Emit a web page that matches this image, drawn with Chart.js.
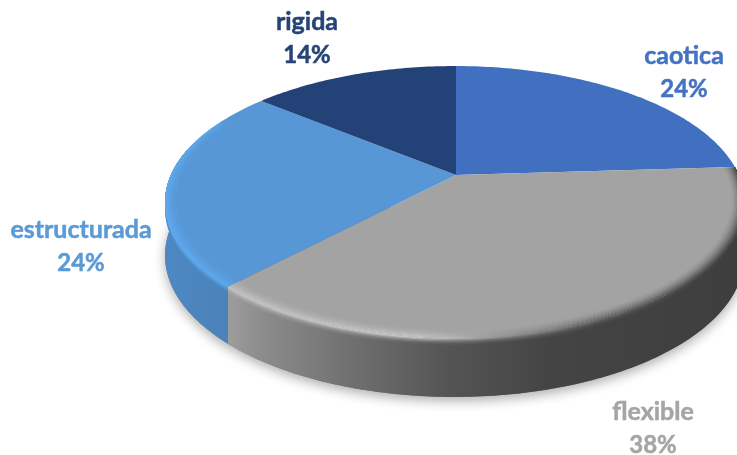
<!DOCTYPE html>
<html>
<head>
<meta charset="utf-8">
<style>
  html, body { margin: 0; padding: 0; background: #fff; }
  canvas { display: block; }
</style>
<script src="https://cdn.jsdelivr.net/npm/chart.js@4"></script>
</head>
<body>
<canvas id="myChart" width="737" height="455"></canvas>
<script>
  const categories = ["caotica", "flexible", "estructurada", "rigida"];
  const shares = [24, 38, 24, 14];
  const colors = ["#4170c0", "#a3a3a3", "#5797d6", "#234278"];
  const labelColors = ["#4472c4", "#a5a5a5", "#5b9bd5", "#264478"];
  const labelPos = [[684, 56], [653, 412], [81, 230], [307, 22]];

  // perspective of the disc: apex, scale and tilt
  const view = { x: 456, y: 175, a: 284, b: 130.6, p: 0.1985, q: 0.004 };

  // wall and rim shading, [x, [r,g,b]]
  const wallStops = [
    [[232, [66, 118, 170]], [300, [80, 140, 200]]],
    [[232, [155, 155, 155]], [262, [140, 140, 140]], [350, [112, 112, 112]], [450, [84, 84, 84]], [550, [68, 68, 68]], [737, [62, 62, 62]]],
    [[165, [78, 136, 194]], [232, [74, 130, 186]]],
    [[0, [35, 66, 120]], [737, [35, 66, 120]]]
  ];
  const rimStops = [
    [[232, [80, 140, 200]], [737, [40, 70, 130]]],
    [[232, [196, 196, 196]], [420, [200, 200, 200]], [500, [150, 150, 150]], [600, [95, 95, 95]], [737, [62, 62, 62]]],
    [[165, [96, 170, 240]], [232, [92, 168, 238]]],
    [[0, [35, 66, 120]], [737, [35, 66, 120]]]
  ];

  function project(angle, r) {
    const u = r * Math.cos(angle), v = r * Math.sin(angle);
    const w = 1 - view.p * v + view.q * u;
    return [view.x + view.a * u / w, view.y + view.b * v / w];
  }
  function depth(angle) {
    return 52 + 7 * Math.sin(angle);
  }
  function rimPath(ctx, a0, a1, fn) {
    const n = Math.max(2, Math.ceil(Math.abs(a1 - a0) * 60));
    for (let i = 0; i <= n; i++) {
      const a = a0 + (a1 - a0) * i / n;
      const pt = fn(a);
      ctx.lineTo(pt[0], pt[1]);
    }
  }
  function band(ctx, a0, a1, fnA, fnB, fill) {
    ctx.beginPath();
    rimPath(ctx, a0, a1, fnA);
    rimPath(ctx, a1, a0, fnB);
    ctx.closePath();
    ctx.fillStyle = fill;
    ctx.fill();
  }
  function mix(c1, c2, t) {
    return c1.map((c, i) => Math.round(c + (c2[i] - c) * t));
  }
  function hexRgb(h) {
    return [1, 3, 5].map(i => parseInt(h.substr(i, 2), 16));
  }
  function colorAt(stops, x) {
    if (x <= stops[0][0]) return stops[0][1];
    for (let i = 1; i < stops.length; i++) {
      if (x <= stops[i][0]) {
        return mix(stops[i - 1][1], stops[i][1], (x - stops[i - 1][0]) / (stops[i][0] - stops[i - 1][0]));
      }
    }
    return stops[stops.length - 1][1];
  }
  function hGrad(ctx, stopsA, stopsB, t) {
    // blend stopsA towards stopsB, both sampled on the stop list of B
    const x0 = stopsB[0][0], x1 = stopsB[stopsB.length - 1][0];
    const g = ctx.createLinearGradient(x0, 0, x1, 0);
    stopsB.forEach(s => {
      const base = Array.isArray(stopsA[0]) ? colorAt(stopsA, s[0]) : stopsA;
      const c = mix(base, s[1], t);
      g.addColorStop((s[0] - x0) / (x1 - x0), "rgb(" + c.join(",") + ")");
    });
    return g;
  }

  const disc3d = {
    id: 'disc3d',
    beforeDatasetsDraw(chart) {
      const ctx = chart.ctx;
      const arcs = chart.getDatasetMeta(0).data;
      const low = a => { const p = project(a, 1); return [p[0], p[1] + depth(a)]; };
      const top = a => project(a, 1);

      // soft shadow under the pie
      ctx.save();
      ctx.shadowColor = "rgba(0,0,0,0.32)";
      ctx.shadowBlur = 12;
      ctx.shadowOffsetY = 4;
      ctx.fillStyle = "#777";
      ctx.beginPath();
      rimPath(ctx, -0.06, Math.PI + 0.2, low);
      ctx.closePath();
      ctx.fill();
      ctx.restore();

      // side wall
      arcs.forEach((arc, i) => {
        const a0 = Math.max(arc.startAngle, -0.06);
        const a1 = Math.min(arc.endAngle, Math.PI + 0.2);
        if (a1 <= a0) return;
        band(ctx, a0, a1, top, low, hGrad(ctx, wallStops[i], wallStops[i], 0));
        // the rim highlight runs a little over the wall
        const n = 6;
        for (let k = n; k > 0; k--) {
          const d = 7 * k / n;
          const lowK = a => { const p = project(a, 1); return [p[0], p[1] + d]; };
          const t = 1 - (k - 1) / n;
          band(ctx, a0, a1, top, lowK, hGrad(ctx, wallStops[i], rimStops[i], t * t));
        }
      });

      // top surface
      arcs.forEach((arc, i) => {
        ctx.beginPath();
        ctx.moveTo(view.x, view.y);
        rimPath(ctx, arc.startAngle, arc.endAngle, top);
        ctx.closePath();
        ctx.fillStyle = colors[i];
        ctx.fill();
      });

      // bevel on the front of the rim
      arcs.forEach((arc, i) => {
        const a0 = Math.max(arc.startAngle, -0.06);
        const a1 = Math.min(arc.endAngle, Math.PI + 0.45);
        if (a1 <= a0) return;
        const n = 10;
        for (let k = 0; k < n; k++) {
          const r0 = 0.955 + 0.045 * k / n;
          const r1 = 0.955 + 0.045 * (k + 1) / n;
          const t = Math.pow((k + 1) / n, 1.6);
          band(ctx, a0, a1, a => project(a, r0), a => project(a, r1),
            hGrad(ctx, hexRgb(colors[i]), rimStops[i], t));
        }
      });

      return false;
    },
    afterDraw(chart) {
      const ctx = chart.ctx;
      ctx.save();
      ctx.textAlign = "center";
      ctx.textBaseline = "middle";
      ctx.lineWidth = 0.5;
      categories.forEach((name, i) => {
        ctx.fillStyle = labelColors[i];
        ctx.strokeStyle = labelColors[i];
        ctx.font = "bold 25px Lato";
        ctx.fillText(name, labelPos[i][0], labelPos[i][1]);
        ctx.strokeText(name, labelPos[i][0], labelPos[i][1]);
        ctx.font = "bold 24px Lato";
        ctx.fillText(shares[i] + "%", labelPos[i][0], labelPos[i][1] + 33);
        ctx.strokeText(shares[i] + "%", labelPos[i][0], labelPos[i][1] + 33);
      });
      ctx.restore();
    }
  };

  const ctx = document.getElementById('myChart').getContext('2d');
  const myChart = new Chart(ctx, {
    type: 'pie',
    data: {
      labels: categories,
      datasets: [{
        data: shares,
        backgroundColor: colors,
        borderWidth: 0
      }]
    },
    options: {
      responsive: false,
      animation: false,
      plugins: {
        legend: { display: false },
        tooltip: { enabled: false }
      }
    },
    plugins: [disc3d]
  });
</script>
</body>
</html>
